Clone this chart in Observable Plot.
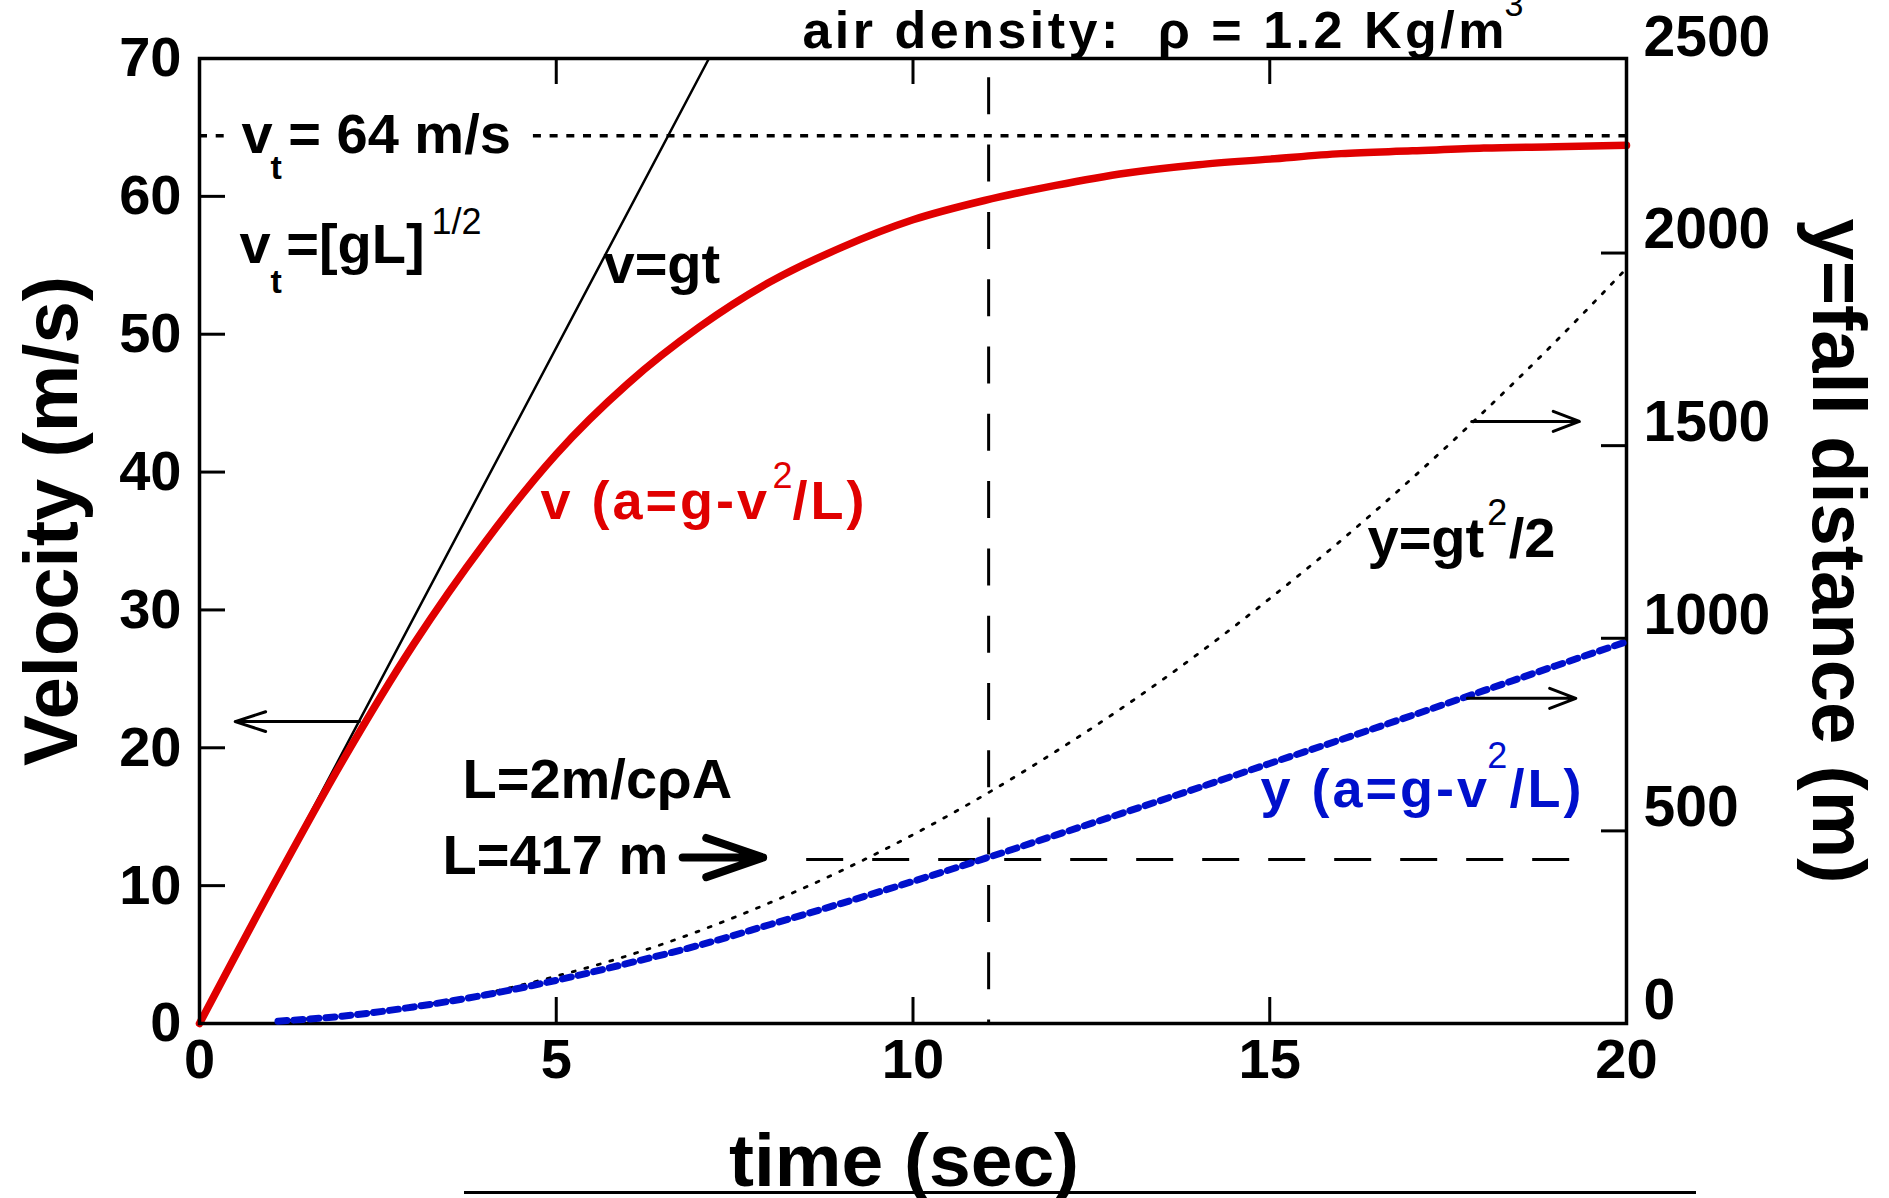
<!DOCTYPE html>
<html><head><meta charset="utf-8">
<script src="https://cdn.jsdelivr.net/npm/d3@7"></script>
<script src="https://cdn.jsdelivr.net/npm/@observablehq/plot@0.6"></script>
<style>
html,body{margin:0;padding:0;background:#fff;}
#wrap{position:relative;width:1889px;height:1198px;overflow:hidden;background:#fff;}
#wrap svg{position:absolute;left:0;top:0;}
#cut{position:absolute;left:464px;top:1191px;width:1232px;height:0;border-top:3px solid #000;}
</style></head><body><div id="wrap"><div id="cut"></div></div>
<script>
// ---- data ----
const timeTicks = [0, 5, 10, 15, 20];
const velTicks = [0, 10, 20, 30, 40, 50, 60, 70];
const distTicks = [0, 500, 1000, 1500, 2000, 2500];
const innerTimeTicks = [5, 10, 15];
const innerVelTicks = [10, 20, 30, 40, 50, 60];
const innerDistTicks = [500, 1000, 1500, 2000];

// free fall velocity v = g t
const freeT = [0, 7.14];
const freeV = [0, 70];
// velocity with drag (red)
const dragT = [0,1,2,3,4,5,6,7,8,9,10,11,12,13,14,15,16,17,18,19,20];
const dragV = [0,9.7,19.0,27.5,34.9,41.3,46.4,50.5,53.8,56.3,58.3,59.7,60.8,61.7,62.3,62.7,63.1,63.3,63.5,63.6,63.7];
// fall distance (right axis, m)
const fallT = [1.1,2,3,4,5,6,7,8,9,10,11,12,13,14,15,16,17,18,19,20];
const fallDrag = [6,19,43,74,112,156,203,257,312,369,428,489,550,612,675,737,800,864,928,991];
const fallFree = [6,20,44,78,123,176,240,314,397,490,593,706,828,960,1103,1254,1416,1588,1769,1960];

// reference lines
const vTerminal = 64.4;
const vtSegStart = [0, 4.68];
const vtSegEnd = [0.41, 20];
const tMark = 11.06;
const tMarkTop = 68.6;
const lMark = 426;
const lMarkStart = 8.51;
const lMarkEnd = 19.33;

// annotations (left axis units)
const bigText = ["v = 64 m/s", "v =[gL]", "v=gt", "L=2m/c\u03C1A", "L=417 m"];
const bigT = [0.589, 0.561, 5.662, 3.686, 3.406];
const bigV = [63.11, 55.13, 53.68, 16.39, 10.88];
const subText = ["t", "t"];
const subT = [0.995, 0.995];
const subV = [61.29, 53.02];
const halfText = ["1/2"];
const halfT = [3.252];
const halfV = [57.30];
const redText = ["v (a=g-v", "/L)"];
const redT = [4.779, 8.311];
const redV = [36.63, 36.63];
const redSupT = [8.031];
const redSupV = [38.81];
// annotations (right axis units)
const gtText = ["y=gt", "/2"];
const gtT = [16.37, 18.35];
const gtY = [1210, 1210];
const gtSupT = [18.05];
const gtSupY = [1293];
const blueText = ["y (a=g-v", "/L)"];
const blueT = [14.87, 18.36];
const blueY = [561, 561];
const blueSupT = [18.05];
const blueSupY = [662];
const titleText = ["air density:  \u03C1 = 1.2 Kg/m"];
const titleT = [8.45];
const titleSupT = [18.29];

// arrows
const arrowLeft = {t1: 2.24, t2: 0.5, v: 21.9};
const arrowRight1 = {t1: 17.83, t2: 19.34, y: 1563};
const arrowRight2 = {t1: 17.77, t2: 19.29, y: 844};
const arrowL = {t1: 5.37, t2: 7.90, v: 12.04};

// ---- layout ----
const W = 1889, H = 1198;
const mL = 199, mR = 263, mT = 58, mB = 175;
const innerW = W - mL - mR, innerH = H - mT - mB;
const red = "#e00000", blue = "#0010cc";
const style = "font-family:'Liberation Sans',Arial,Helvetica,sans-serif;font-weight:bold;background:transparent;max-width:none;overflow:visible;";
const common = {width: W, height: H, marginLeft: mL, marginRight: mR, marginTop: mT, marginBottom: mB, style};

const leftPlot = Plot.plot({
  ...common,
  x: {domain: [0, 20]},
  y: {domain: [0, 70]},
  marks: [
    Plot.ruleY(vtSegStart, {x1: vtSegStart, x2: vtSegEnd, y: vTerminal, stroke: "#000", strokeWidth: 3.5, strokeDasharray: "8,8.7"}),
    Plot.ruleX([tMark], {y1: tMarkTop, y2: 0, stroke: "#000", strokeWidth: 3, strokeDasharray: "37,30.3"}),
    Plot.line(freeT, {x: freeT, y: freeV, stroke: "#000", strokeWidth: 2.5}),
    Plot.line(dragT, {x: dragT, y: dragV, stroke: red, strokeWidth: 7.5, curve: "monotone-x"}),
    Plot.frame({stroke: "#000", strokeWidth: 3.5}),
    Plot.tickY(innerVelTicks, {stroke: "#000", strokeWidth: 3, insetRight: innerW - 26}),
    Plot.tickX(innerTimeTicks, {stroke: "#000", strokeWidth: 3, insetTop: innerH - 26}),
    Plot.tickX(innerTimeTicks, {stroke: "#000", strokeWidth: 3, insetBottom: innerH - 26}),
    Plot.axisY(velTicks, {tickSize: 0, tickPadding: 18, fontSize: 56, tickFormat: "d", label: null}),
    Plot.axisX(timeTicks, {tickSize: 0, tickPadding: 15, fontSize: 56, tickFormat: "d", label: null}),
    Plot.text(["Velocity (m/s)"], {text: d => d, frameAnchor: "left", textAnchor: "middle", dx: -147, dy: -20, rotate: -90, fontSize: 76}),
    Plot.text(["time (sec)"], {text: d => d, frameAnchor: "bottom", textAnchor: "middle", dx: -9, dy: 162, lineAnchor: "bottom", fontSize: 75}),
    Plot.text(titleText, {text: d => d, x: titleT, frameAnchor: "top", dy: -11, lineAnchor: "bottom", textAnchor: "start", fontSize: 52}),
    Plot.text(["3"], {text: d => d, x: titleSupT, frameAnchor: "top", dy: -43, lineAnchor: "bottom", textAnchor: "start", fontSize: 34, fontWeight: "normal"}),
    Plot.text(bigText, {text: d => d, x: bigT, y: bigV, textAnchor: "start", lineAnchor: "bottom", fontSize: 56}),
    Plot.text(subText, {text: d => d, x: subT, y: subV, textAnchor: "start", lineAnchor: "bottom", fontSize: 34}),
    Plot.text(halfText, {text: d => d, x: halfT, y: halfV, textAnchor: "start", lineAnchor: "bottom", fontSize: 36, fontWeight: "normal"}),
    Plot.text(redText, {text: d => d, x: redT, y: redV, textAnchor: "start", lineAnchor: "bottom", fontSize: 54, fill: red}),
    Plot.text(["2"], {text: d => d, x: redSupT, y: redSupV, textAnchor: "start", lineAnchor: "bottom", fontSize: 36, fontWeight: "normal", fill: red}),
    Plot.arrow([0], {x1: arrowLeft.t1, x2: arrowLeft.t2, y1: arrowLeft.v, y2: arrowLeft.v, stroke: "#000", strokeWidth: 3, headLength: 16, headAngle: 36}),
    Plot.arrow([0], {x1: arrowL.t1, x2: arrowL.t2, y1: arrowL.v, y2: arrowL.v, stroke: "#000", strokeWidth: 8, headLength: 12, headAngle: 38, insetStart: 100})
  ]
});

const rightPlot = Plot.plot({
  ...common,
  x: {domain: [0, 20], axis: null},
  y: {domain: [0, 2505]},
  marks: [
    Plot.ruleY([lMark], {x1: lMarkStart, x2: lMarkEnd, stroke: "#000", strokeWidth: 3, strokeDasharray: "37,29"}),
    Plot.line(fallT, {x: fallT, y: fallFree, stroke: "#000", strokeWidth: 2.8, strokeDasharray: "3,10", curve: "monotone-x"}),
    Plot.line(fallT, {x: fallT, y: fallDrag, stroke: blue, strokeWidth: 7, strokeDasharray: "9,7", curve: "monotone-x"}),
    Plot.tickY(innerDistTicks, {stroke: "#000", strokeWidth: 3, insetLeft: innerW - 25}),
    Plot.axisY(distTicks, {anchor: "right", tickSize: 0, tickPadding: 17, dy: -23, fontSize: 57, tickFormat: "d", label: null}),
    Plot.text(["y=fall distance (m)"], {text: d => d, frameAnchor: "right", textAnchor: "middle", dx: 211, dy: 10, rotate: 90, fontSize: 76}),
    Plot.text(gtText, {text: d => d, x: gtT, y: gtY, textAnchor: "start", lineAnchor: "bottom", fontSize: 56}),
    Plot.text(["2"], {text: d => d, x: gtSupT, y: gtSupY, textAnchor: "start", lineAnchor: "bottom", fontSize: 36, fontWeight: "normal"}),
    Plot.text(blueText, {text: d => d, x: blueT, y: blueY, textAnchor: "start", lineAnchor: "bottom", fontSize: 54, fill: blue}),
    Plot.text(["2"], {text: d => d, x: blueSupT, y: blueSupY, textAnchor: "start", lineAnchor: "bottom", fontSize: 36, fontWeight: "normal", fill: blue}),
    Plot.arrow([0], {x1: arrowRight1.t1, x2: arrowRight1.t2, y1: arrowRight1.y, y2: arrowRight1.y, stroke: "#000", strokeWidth: 3, headLength: 14, headAngle: 42}),
    Plot.arrow([0], {x1: arrowRight2.t1, x2: arrowRight2.t2, y1: arrowRight2.y, y2: arrowRight2.y, stroke: "#000", strokeWidth: 3, headLength: 14, headAngle: 42})
  ]
});

const wrap = document.getElementById("wrap");
wrap.appendChild(leftPlot);
wrap.appendChild(rightPlot);
// letter spacing for the widely set labels
const spacing = new Map([[titleText[0], "3.5px"], [redText[0], "3px"], [redText[1], "3px"], [blueText[0], "3px"], [blueText[1], "3px"]]);
for (const svg of [leftPlot, rightPlot]) {
  svg.querySelectorAll("text").forEach(t => {
    const s = spacing.get(t.textContent);
    if (s) { t.style.letterSpacing = s; t.setAttribute("letter-spacing", s); }
  });
}
</script>
</body></html>
